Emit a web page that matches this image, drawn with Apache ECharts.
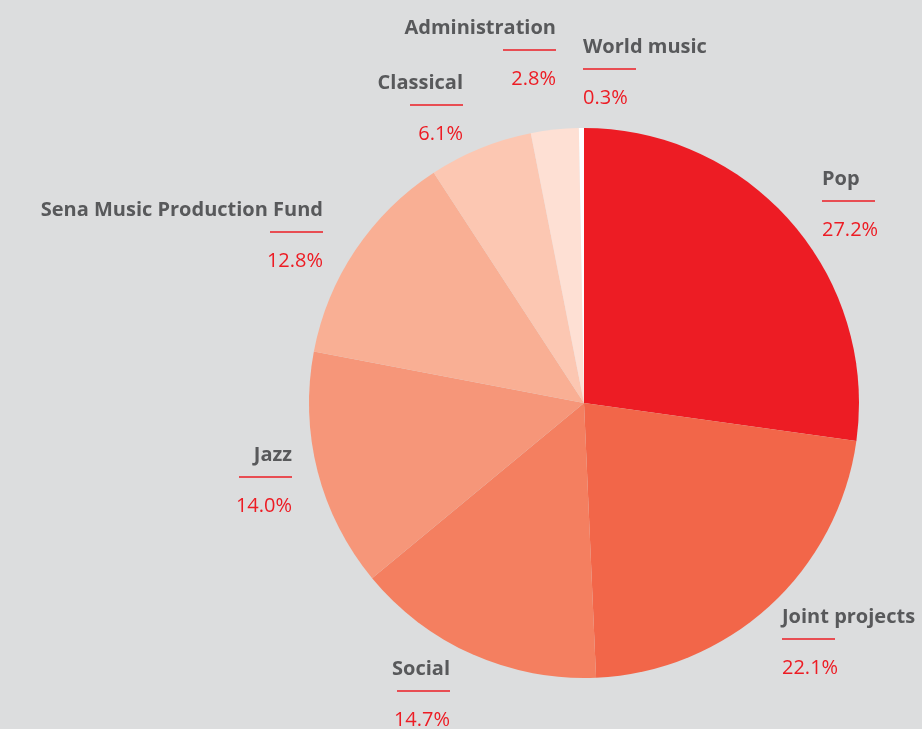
<!DOCTYPE html>
<html>
<head>
<meta charset="utf-8">
<script src="https://cdn.jsdelivr.net/npm/echarts@6/dist/echarts.min.js"></script>
<style>
  html, body { margin: 0; padding: 0; background: #DCDDDE; }
  #main { width: 922px; height: 729px; }
</style>
</head>
<body>
<div id="main"></div>
<script>
	// data, clockwise from 12 o'clock
	var names = [ 'Pop', 'Joint projects', 'Social', 'Jazz', 'Sena Music Production Fund', 'Classical', 'Administration', 'World music' ];
	var values = [ 27.2, 22.1, 14.7, 14.0, 12.8, 6.1, 2.8, 0.3 ];
	var colors = [ '#ED1C24', '#F26649', '#F47F60', '#F69679', '#F9AF94', '#FCC7B2', '#FEE0D4', '#FFFFFF' ];

	// where each label block sits (anchor x, top y, alignment)
	var labelX = [ 822, 782, 450, 292, 323, 463, 556, 583 ];
	var labelY = [ 168, 606, 658, 444, 199, 72, 17, 36 ];
	var labelAlign = [ 'left', 'left', 'right', 'right', 'right', 'right', 'right', 'left' ];

	var pieData = [];
	for (var i = 0; i < names.length; i++) {
		pieData.push({
			name : names[i],
			value : values[i],
			itemStyle : { color : colors[i] }
		});
	}

	var myChart = echarts.init(document.getElementById('main'));

	var option = {
		backgroundColor : '#DCDDDE',
		animation : false,
		series : [ {
			type : 'pie',
			center : [ 584, 403 ],
			radius : 275,
			startAngle : 90,
			clockwise : true,
			avoidLabelOverlap : false,
			itemStyle : {
				borderWidth : 0
			},
			label : {
				show : true,
				position : 'outside',
				formatter : function(p) {
					return '{n|' + p.name + '}\n{u|}\n{p|' + p.value.toFixed(1) + '%}';
				},
				rich : {
					n : {
						fontFamily : 'Open Sans',
						fontWeight : 'bold',
						fontSize : 20,
						color : '#58595B',
						lineHeight : 22
					},
					u : {
						width : 53,
						height : 1.5,
						lineHeight : 22,
						backgroundColor : '#ED1C24'
					},
					p : {
						fontFamily : 'Open Sans',
						fontSize : 20,
						color : '#ED1C24',
						lineHeight : 36
					}
				}
			},
			labelLine : { show : false },
			labelLayout : function(params) {
				var k = params.dataIndex;
				return {
					x : labelX[k],
					y : labelY[k],
					align : labelAlign[k],
					verticalAlign : 'top'
				};
			},
			data : pieData
		} ]
	};
	myChart.setOption(option);
</script>
</body>
</html>
